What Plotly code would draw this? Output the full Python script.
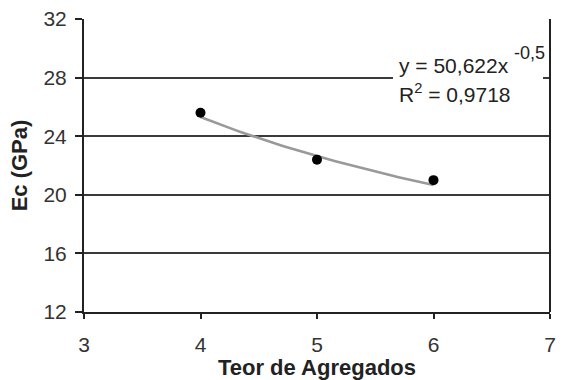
import numpy as np
import plotly.graph_objects as go

# Data
teor = [4, 5, 6]
ec = [25.6, 22.4, 21.0]

# Trendline (power fit shown on chart): y = a * x^b
coef_a = 50.622
coef_b = -0.5
trend_x = np.linspace(4, 6, 41)
trend_y = coef_a * trend_x ** coef_b

x_ticks = [3, 4, 5, 6, 7]
y_ticks = [12, 16, 20, 24, 28, 32]

FONT = "Liberation Sans, Arial, sans-serif"

fig = go.Figure()
fig.add_trace(go.Scatter(x=trend_x, y=trend_y, mode="lines",
                         line=dict(color="#999999", width=2.5), hoverinfo="skip"))
fig.add_trace(go.Scatter(x=teor, y=ec, mode="markers",
                         marker=dict(color="black", size=10)))

# white box behind the equation (hides gridline)
fig.add_shape(type="rect", xref="paper", yref="paper", layer="above",
              x0=0.663, x1=0.985, y0=0.70, y1=0.92,
              fillcolor="white", line=dict(width=0))

eq_font = dict(family=FONT, size=21, color="#222")
fig.add_annotation(xref="paper", yref="paper", x=0.672, y=0.840,
                   xanchor="left", yanchor="middle", showarrow=False,
                   text="y = 50,622x", font=eq_font)
fig.add_annotation(xref="paper", yref="paper", x=0.918, y=0.885,
                   xanchor="left", yanchor="middle", showarrow=False,
                   text="-0,5", font=dict(family=FONT, size=18, color="#222"))
fig.add_annotation(xref="paper", yref="paper", x=0.672, y=0.748,
                   xanchor="left", yanchor="middle", showarrow=False,
                   text="R<sup>2</sup> = 0,9718", font=eq_font)

fig.update_layout(
    width=563, height=380,
    margin=dict(l=84, r=7, t=19, b=68),
    paper_bgcolor="white", plot_bgcolor="white",
    showlegend=False,
    font=dict(family=FONT, size=21, color="#333"),
    xaxis=dict(range=[3, 7], tickvals=x_ticks, showgrid=False, zeroline=False,
               showline=True, linecolor="#222", linewidth=2, mirror=False,
               ticks="outside", ticklen=5, tickwidth=1.5, tickcolor="#222",
               ticklabelstandoff=8,
               tickfont=dict(family=FONT, size=21, color="#333"),
               title=dict(text="<b>Teor de Agregados</b>", standoff=0,
                          font=dict(family=FONT, size=22, color="#222"))),
    yaxis=dict(range=[12, 32], tickvals=y_ticks, showgrid=True, gridcolor="#3a3a3a",
               gridwidth=2, zeroline=False,
               showline=True, linecolor="#222", linewidth=2,
               ticks="outside", ticklen=7, tickwidth=1.5, tickcolor="#222",
               ticklabelstandoff=4,
               tickfont=dict(family=FONT, size=21, color="#333"),
               title=dict(text="<b>Ec (GPa)</b>", standoff=10,
                          font=dict(family=FONT, size=22, color="#222"))),
)
# right border
fig.add_shape(type="line", xref="paper", yref="paper", x0=1, x1=1, y0=0, y1=1,
              line=dict(color="#222", width=2))

fig.write_html("out.html")
